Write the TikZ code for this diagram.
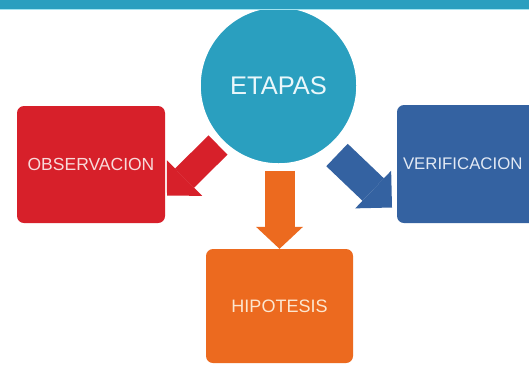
\documentclass[tikz,border=0pt]{standalone}
\usepackage{fontspec}
\setmainfont{Liberation Sans}
\usetikzlibrary{arrows.meta}
\definecolor{tealc}{HTML}{2A9FBF}
\definecolor{barline}{HTML}{A4E4F0}
\definecolor{redb}{HTML}{D7202A}
\definecolor{blueb}{HTML}{3462A1}
\definecolor{orangeb}{HTML}{EC6A1F}
\definecolor{redtxt}{HTML}{F8DADA}
\definecolor{bluetxt}{HTML}{E2E9F4}
\definecolor{orangetxt}{HTML}{FCE6CF}
\definecolor{tealtxt}{HTML}{EAF7FB}
\begin{document}
\begin{tikzpicture}[x=1pt,y=-1pt,
  box/.style={rectangle, rounded corners=7pt, minimum width=148pt,
    minimum height=117pt, inner sep=0pt,
    font=\fontsize{17.5}{20}\selectfont},
  bigarrow/.style={line width=28pt,
    -{Triangle[length=24.7pt,width=50pt,line width=0pt]}}]
\useasboundingbox (0,0) rectangle (529,365);
\fill[white] (0,0) rectangle (529,365);
% central circle
\node[circle, fill=tealc, draw=white, line width=1.5pt, minimum size=157pt,
  inner sep=0pt, text=tealtxt, font=\fontsize{25.5}{28}\selectfont]
  (etapas) at (278.5,85.5) {ETAPAS};
% top bar
\fill[tealc] (0,0) rectangle (529,8.5);
\fill[barline] (0,8.5) rectangle (529,10);
% boxes
\node[box, fill=redb, text=redtxt] (obs) at (91,164.5) {OBSERVACION};
\node[box, fill=blueb, minimum height=118pt] (ver) at (471,164) {};
\node[anchor=west, inner sep=0pt, text=bluetxt, font=\fontsize{16.8}{20}\selectfont]
  (vertxt) at ([xshift=6pt]ver.west) {VERIFICACION};
\node[box, fill=orangeb, text=orangetxt, minimum width=147pt, minimum height=114pt,
  font=\fontsize{18}{20}\selectfont] (hip) at (279.5,306) {HIPOTESIS};
% arrows
\coordinate (redtail) at (218,145);
\coordinate (redtip) at (167,195.5);
\coordinate (bluetail) at (337,155);
\coordinate (bluetip) at (392,207.5);
\draw[bigarrow, redb, line width=27pt] (redtail) -- (redtip);
\draw[bigarrow, blueb, line width=31pt,
  -{Triangle[length=26pt,width=52pt,line width=0pt]}] (bluetail) -- (bluetip);
\draw[bigarrow, orangeb, line width=30pt,
  -{Triangle[length=22pt,width=47pt,line width=0pt]}, shorten <=6pt]
  (hip.north |- etapas.south) -- (hip.north);
\end{tikzpicture}
\end{document}
